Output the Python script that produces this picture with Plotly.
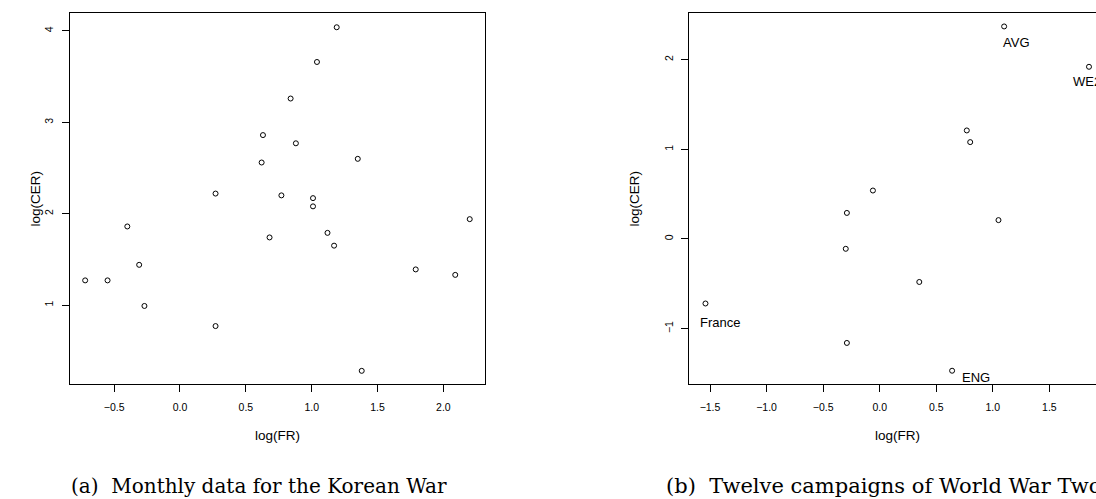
import plotly.graph_objects as go

# ---------------- data ----------------
korea_log_fr = [1.19, 1.04, 0.84, 0.63, 0.88, 0.62, 1.35, 0.27, 0.77, 1.01, 1.01, 2.20,
                -0.40, 0.68, 1.12, 1.17, -0.72, -0.55, -0.31, -0.27, 0.27, 1.38, 1.79, 2.09]
korea_log_cer = [4.04, 3.66, 3.26, 2.86, 2.77, 2.56, 2.60, 2.22, 2.20, 2.17, 2.08, 1.94,
                 1.86, 1.74, 1.79, 1.65, 1.27, 1.27, 1.44, 0.99, 0.77, 0.28, 1.39, 1.33]

ww2_log_fr = [1.10, 1.85, 0.77, 0.80, -0.06, -0.29, 1.05, -0.30, 0.35, -1.54, -0.29, 0.64]
ww2_log_cer = [2.37, 1.92, 1.21, 1.08, 0.54, 0.29, 0.21, -0.11, -0.48, -0.72, -1.16, -1.47]
ww2_names = ["AVG", "WE2", "", "", "", "", "", "", "", "France", "", "ENG"]

korea_xticks = [-0.5, 0.0, 0.5, 1.0, 1.5, 2.0]
korea_yticks = [1, 2, 3, 4]
ww2_xticks = [-1.5, -1.0, -0.5, 0.0, 0.5, 1.0, 1.5]
ww2_yticks = [-1, 0, 1, 2]

caption_a = "(a)  Monthly data for the Korean War"
caption_b = "(b)  Twelve campaigns of World War Two"

# ---------------- layout helpers ----------------
W, H = 1096, 499
def px(x):
    return x / W
def py(y):
    return 1 - y / H

# label offsets (pixels) relative to their point
label_offsets = {"AVG": (-3, -16), "WE2": (-18, -15), "France": (-7, -19), "ENG": (8, -7)}

marker = dict(symbol="circle-open", size=5, color="black", line=dict(width=1, color="black"))

fig = go.Figure()
fig.add_trace(go.Scatter(x=korea_log_fr, y=korea_log_cer, mode="markers", marker=marker,
                         xaxis="x", yaxis="y", showlegend=False, hoverinfo="x+y"))
fig.add_trace(go.Scatter(x=ww2_log_fr, y=ww2_log_cer, mode="markers", marker=marker,
                         xaxis="x2", yaxis="y2", showlegend=False, hoverinfo="x+y"))

tickfont = dict(family="Liberation Sans, Arial, sans-serif", size=10.5, color="black")
common = dict(showgrid=False, zeroline=False, showline=True, linecolor="black", linewidth=1,
              ticks="outside", ticklen=7, tickwidth=1, tickcolor="black", tickfont=tickfont)

ydom = [py(384), py(13)]
fig.update_layout(
    width=W, height=H,
    margin=dict(l=0, r=0, t=0, b=0),
    paper_bgcolor="white", plot_bgcolor="white",
    xaxis=dict(domain=[px(69.5), px(485)], range=[-0.839, 2.316], tickvals=korea_xticks,
               ticktext=[f"{v:.1f}".replace("-", "\u2212") for v in korea_xticks],
               mirror=True, anchor="y", ticklabelstandoff=6, **common),
    yaxis=dict(domain=ydom, range=[0.136, 4.196], tickvals=korea_yticks,
               mirror=True, anchor="x", tickangle=-90, ticklabelstandoff=4, **common),
    xaxis2=dict(domain=[px(689.3), 1.0], range=[-1.683, 1.912], tickvals=ww2_xticks,
                ticktext=[f"{v:.1f}".replace("-", "\u2212") for v in ww2_xticks],
                mirror=True, anchor="y2", ticklabelstandoff=6, **common),
    yaxis2=dict(domain=ydom, range=[-1.618, 2.520], tickvals=ww2_yticks,
                ticktext=[str(v).replace("-", "\u2212") for v in ww2_yticks],
                mirror=False, anchor="x2", tickangle=-90, ticklabelstandoff=4, **common),
)

annotations = []
labfont = dict(family="Liberation Sans, Arial, sans-serif", size=13, color="black")
for x, y, name in zip(ww2_log_fr, ww2_log_cer, ww2_names):
    if name:
        dx, dy = label_offsets[name]
        annotations.append(dict(x=x, y=y, xref="x2", yref="y2", text=name, showarrow=False,
                                xanchor="left", yanchor="middle", xshift=dx, yshift=dy,
                                font=labfont))

titlefont = dict(family="Liberation Sans, Arial, sans-serif", size=13.5, color="black")
# axis titles
annotations += [
    dict(x=px(277), y=py(435), xref="paper", yref="paper", text="log(FR)", showarrow=False,
         xanchor="center", yanchor="middle", font=titlefont),
    dict(x=px(897), y=py(435), xref="paper", yref="paper", text="log(FR)", showarrow=False,
         xanchor="center", yanchor="middle", font=titlefont),
    dict(x=px(35), y=py(198.5), xref="paper", yref="paper", text="log(CER)", showarrow=False,
         textangle=-90, xanchor="center", yanchor="middle", font=titlefont),
    dict(x=px(634), y=py(198.5), xref="paper", yref="paper", text="log(CER)", showarrow=False,
         textangle=-90, xanchor="center", yanchor="middle", font=titlefont),
]
annotations += [
    dict(x=px(69), y=py(486), xref="paper", yref="paper", text=caption_a, showarrow=False,
         xanchor="left", yanchor="middle",
         font=dict(family="DejaVu Serif, Liberation Serif, serif", size=20, color="black")),
    dict(x=px(664), y=py(486), xref="paper", yref="paper", text=caption_b, showarrow=False,
         xanchor="left", yanchor="middle",
         font=dict(family="DejaVu Serif, Liberation Serif, serif", size=21, color="black")),
]
fig.update_layout(annotations=annotations)

fig.write_html("out.html", config={"displayModeBar": False},
               post_script="document.body.style.margin='0';document.body.style.overflow='hidden';")
